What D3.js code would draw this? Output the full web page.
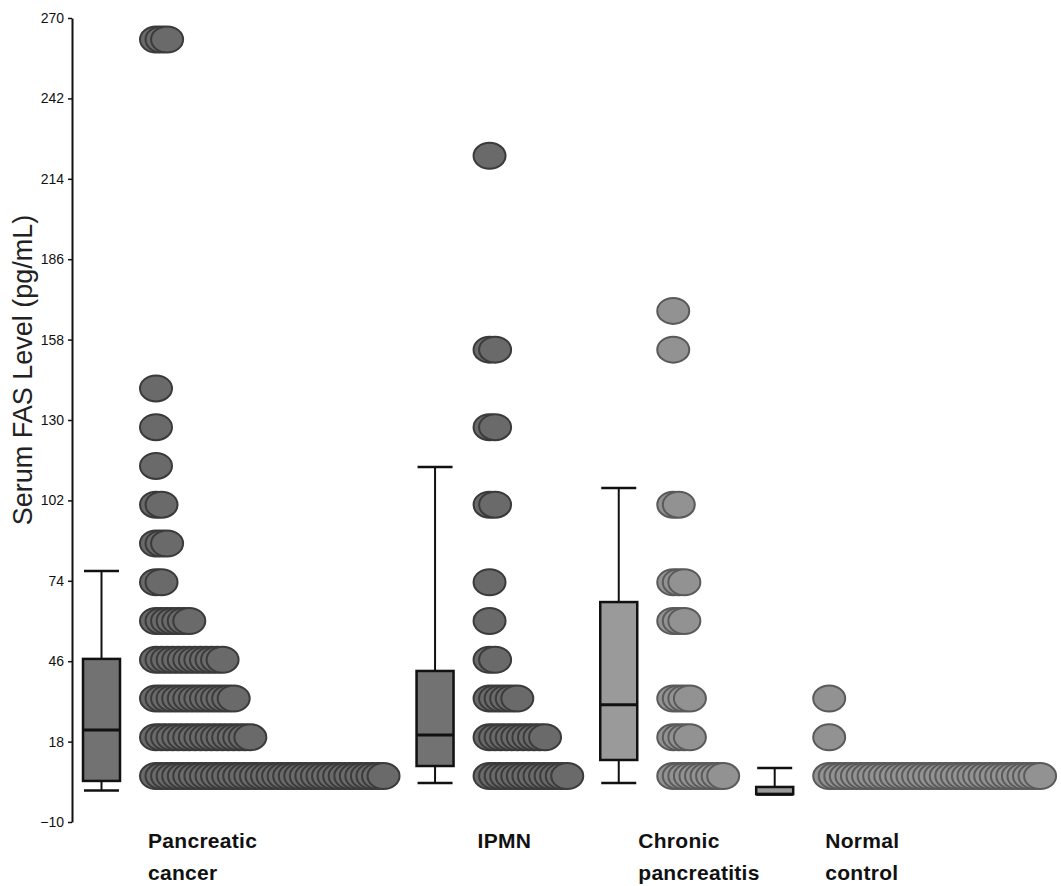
<!DOCTYPE html>
<html>
<head>
<meta charset="utf-8">
<script src="https://cdn.jsdelivr.net/npm/d3@7"></script>
<style>
  body { margin: 0; background: #fff; }
  svg { display: block; }
  .tick text { font-family: 'Liberation Sans', Arial, sans-serif; font-size: 14px; fill: #111; }
</style>
</head>
<body>
<div id="chart"></div>
<script>
// Data
const groups = ['Pancreatic cancer', 'IPMN', 'Chronic pancreatitis', 'Normal control'];
const labelLines = [['Pancreatic', 'cancer'], ['IPMN'], ['Chronic', 'pancreatitis'], ['Normal', 'control']];
const yTicks = [-10, 18, 46, 74, 102, 130, 158, 186, 214, 242, 270];

// box plot summary per group
const boxMin = [1, 3.6, 3.6, -0.3];
const boxQ1 = [4.3, 9.5, 11.6, -0.3];
const boxMedian = [22, 20.3, 30.8, -0.3];
const boxQ3 = [46.8, 42.6, 66.6, 2.2];
const boxMax = [77.4, 113.6, 106.3, 8.8];

// dot rows: [level, number of dots]
const pancreaticDots = [[6, 42], [19.5, 18], [33, 15], [46.5, 13], [60, 7], [73.5, 2], [87, 3], [100.5, 2], [114, 1], [127.5, 1], [141, 1], [262.5, 3]];
const ipmnDots = [[6, 15], [19.5, 11], [33, 6], [46.5, 2], [60, 1], [73.5, 1], [100.5, 2], [127.5, 2], [154.5, 2], [222, 1]];
const chronicDots = [[6, 10], [19.5, 4], [33, 4], [60, 3], [73.5, 3], [100.5, 2], [154.5, 1], [168, 1]];
const normalDots = [[6, 39], [19.5, 1], [33, 1]];
const dotRows = [pancreaticDots, ipmnDots, chronicDots, normalDots];

// Layout
const width = 1061, height = 886;
const axisX = 72;
const boxW = 37, boxGap = 20, groupGap = 17;
const rx = 16, ry = 13, dx = 5.55;
const labelDx = [8, 4, -19, 12];
const dotFill = ['#6a6a6a', '#6a6a6a', '#929292', '#929292'];
const dotStroke = ['#3a3a3a', '#3a3a3a', '#5a5a5a', '#5a5a5a'];
const boxFill = ['#727272', '#727272', '#9a9a9a', '#9a9a9a'];

const svg = d3.select('#chart').append('svg').attr('width', width).attr('height', height);

const y = d3.scaleLinear().domain([-10, 270]).range([822, 18]);
const stack = d3.scaleLinear().domain([0, 1]).range([0, dx]);

// group positions: each group is as wide as its longest dot row
const boxLeft = [];
let cursor = axisX + 11;
dotRows.forEach(rows => {
    boxLeft.push(cursor);
    const maxN = d3.max(rows, r => r[1]);
    cursor += boxW + boxGap + 2 * rx + stack(maxN - 1) + groupGap;
});
const xBox = d3.scaleOrdinal().domain(groups).range(boxLeft);
const dotStart = g => xBox(g) + boxW + boxGap + rx;

// axis
const yAxis = d3.axisLeft(y).tickValues(yTicks).tickSizeInner(4).tickSizeOuter(0).tickPadding(4);
const yAxisG = svg.append('g').attr('transform', `translate(${axisX},0)`).call(yAxis);
yAxisG.select('.domain').attr('stroke', '#111').attr('stroke-width', 2);
yAxisG.selectAll('.tick line').attr('stroke', '#111').attr('stroke-width', 1.5);

svg.append('text')
    .attr('transform', `translate(32,370) rotate(-90)`)
    .attr('text-anchor', 'middle')
    .style('font-family', "'Liberation Sans', Arial, sans-serif")
    .style('font-size', '27px')
    .style('fill', '#222')
    .text('Serum FAS Level (pg/mL)');

// box plots
groups.forEach((g, i) => {
    const x0 = xBox(g), xc = x0 + boxW / 2;
    const bg = svg.append('g').attr('class', 'box');
    bg.append('line').attr('x1', xc).attr('x2', xc)
        .attr('y1', y(boxMax[i])).attr('y2', y(boxMin[i]))
        .attr('stroke', '#111').attr('stroke-width', 2);
    [boxMax[i], boxMin[i]].forEach(v => {
        bg.append('line').attr('x1', x0 + 1).attr('x2', x0 + boxW - 1)
            .attr('y1', y(v)).attr('y2', y(v))
            .attr('stroke', '#111').attr('stroke-width', 2.5);
    });
    bg.append('rect').attr('x', x0).attr('width', boxW)
        .attr('y', y(boxQ3[i])).attr('height', y(boxQ1[i]) - y(boxQ3[i]))
        .attr('fill', boxFill[i]).attr('stroke', '#111').attr('stroke-width', 2.5);
    bg.append('line').attr('x1', x0).attr('x2', x0 + boxW)
        .attr('y1', y(boxMedian[i])).attr('y2', y(boxMedian[i]))
        .attr('stroke', '#111').attr('stroke-width', 3);
});

// dots, later dots drawn on top so the left arcs show
const blur = svg.append('defs').append('filter').attr('id', 'soft');
blur.append('feGaussianBlur').attr('stdDeviation', 0.6);

groups.forEach((g, i) => {
    const pts = [];
    dotRows[i].forEach(([level, n]) => {
        d3.range(n).forEach(k => pts.push({ level, k }));
    });
    svg.append('g').attr('filter', 'url(#soft)')
        .selectAll('ellipse').data(pts).join('ellipse')
        .attr('cx', d => dotStart(g) + stack(d.k))
        .attr('cy', d => y(d.level))
        .attr('rx', rx).attr('ry', ry)
        .attr('fill', dotFill[i])
        .attr('stroke', dotStroke[i])
        .attr('stroke-width', 2);
});

// category labels
groups.forEach((g, i) => {
    const lx = dotStart(g) - rx + labelDx[i];
    const t = svg.append('text')
        .attr('x', lx)
        .attr('y', 848)
        .style('font-family', "'Liberation Sans', Arial, sans-serif")
        .style('font-weight', 'bold')
        .style('font-size', '21px')
        .style('letter-spacing', '0.3px')
        .style('fill', '#111');
    labelLines[i].forEach((line, j) => {
        t.append('tspan').attr('x', lx).attr('dy', j === 0 ? 0 : 32).text(line);
    });
});
</script>
</body>
</html>
